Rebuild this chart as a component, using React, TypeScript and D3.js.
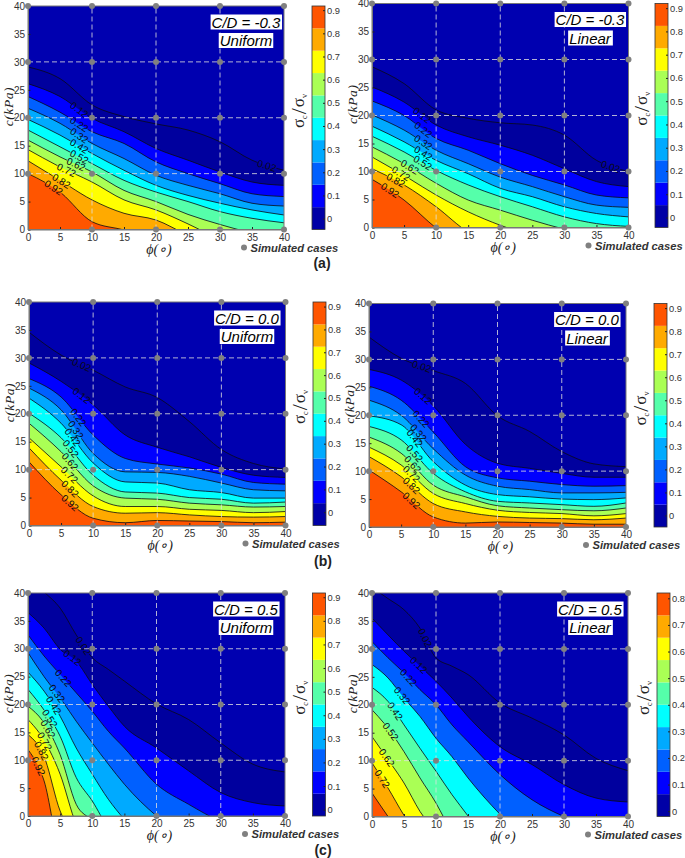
// contour panels redrawn with d3: each contour is c(kPa) read at the phi grid below
import React, { useRef, useEffect } from 'react';
import * as d3 from 'd3';

const PHI = [0, 5, 10, 15, 20, 25, 30, 35, 40];
// the C/D = 0.5 panels fall steeply on the left so they were read more finely there
const PHI_FINE = [0, 2.5, 5, 7.5, 10, 12.5, 15, 20, 25, 30, 35, 40];
const LEVELS = ['0.02', '0.12', '0.22', '0.32', '0.42', '0.52', '0.62', '0.72', '0.82', '0.92'];
const AXIS_TICKS = [0, 5, 10, 15, 20, 25, 30, 35, 40];
const GRID = [10, 20, 30];
const SIM_PHI = [0, 10, 20, 30, 40];
const SIM_C = [0, 10, 20, 30, 40];

// negative numbers = contour has already left through the bottom of the plot
const contoursA1 = [
  [29.1, 27, 22.3, 20.2, 18.9, 17.8, 15.7, 12.4, 10.6],
  [26.1, 23.8, 19.9, 17.5, 14.5, 12.4, 10.3, 8.5, 7.9],
  [23.8, 21, 17.5, 15.4, 12.1, 10, 8.2, 6.4, 5.9],
  [21.7, 19, 15.4, 12.7, 9.7, 7.9, 6.4, 4.7, 4.2],
  [19.7, 16.9, 13.6, 10.6, 7.9, 6.1, 4.7, 3.5, 2.6],
  [17.8, 14.8, 11.8, 8.8, 6.7, 5, 3.2, 2, 1.2],
  [16, 13, 10.3, 7, 5, 2.7, 0.9, -0.6, -1.5],
  [14.3, 11.2, 8.5, 5.3, 3.5, 1, -1.8, -4, -6],
  [12.3, 8.8, 5.3, 2.9, 1.7, -1, -3, -5, -7],
  [10, 6.7, 1.4, -0.1, -2, -4, -6, -8, -10],
];
const contoursA2 = [
  [28.7, 25.7, 21, 19.5, 18.7, 18.3, 16.5, 12, 10],
  [25.1, 22.4, 18.3, 16.2, 14.7, 12.9, 10.5, 8.2, 7.3],
  [22.6, 20, 15.9, 13.8, 11.4, 9.3, 7.6, 5.8, 5.3],
  [20.1, 17.4, 13.8, 11.4, 9, 7.3, 5.5, 4, 3.6],
  [18.1, 15.3, 12, 9.6, 7, 5.5, 3.7, 2.5, 1.9],
  [16.3, 13.5, 10.2, 7.6, 5.5, 3.7, 1.9, 0.7, 0.2],
  [14.4, 11.4, 7.9, 4.9, 3.1, 1.3, -0.3, -1.5, -3],
  [12.6, 9.3, 5.8, 2.8, 0.4, -1.5, -3, -5, -7],
  [10.5, 7.6, 3.7, -0.8, -3, -5, -7, -9, -11],
  [8.6, 4.9, -0.1, -4, -6, -8, -10, -12, -14],
];
const contoursB1 = [
  [34.6, 30.5, 27.8, 24.8, 22.9, 18.6, 13.6, 11.1, 10.1],
  [29.1, 25.8, 21.6, 16.2, 14, 12.3, 10.4, 9, 8.6],
  [26.3, 23, 16.2, 12, 11, 10.3, 9.2, 7.7, 7.4],
  [24.6, 20.7, 12.9, 9.6, 9.5, 8.8, 7.6, 6.4, 6.2],
  [22.8, 18.3, 11.2, 7.8, 7.6, 6.4, 5.9, 4.9, 4.9],
  [20.1, 15.7, 9, 6, 5.8, 5, 4.7, 4, 4.2],
  [18.3, 13.2, 7.1, 4.9, 4.7, 4, 3.7, 3.3, 3.4],
  [15.7, 10.5, 5.3, 3.4, 3.4, 2.9, 2.7, 2.3, 2.5],
  [13.9, 8.1, 3.4, 2.2, 2.3, 1.9, 1.6, 1.5, 1.6],
  [11.4, 5.5, 1.3, 0.5, 0.9, 0.8, 0.7, 0.5, 0.6],
];
const contoursB2 = [
  [34, 30.2, 28, 25.7, 19.9, 17.1, 13.5, 11.3, 10.8],
  [28.2, 26.3, 21.7, 14.8, 11.4, 10.5, 9.6, 8.9, 8.9],
  [25.2, 22.7, 17, 10.8, 8.8, 8.2, 7.6, 7.3, 7.4],
  [22.7, 20, 14, 9.3, 7.3, 6.7, 6.1, 6.1, 6.2],
  [19.9, 18.3, 11.7, 7.5, 5.8, 5.4, 5, 4.9, 5.2],
  [18, 15.6, 9.6, 6.3, 4.6, 4.3, 4, 3.7, 4.3],
  [16.1, 13.2, 7.5, 5.4, 3.8, 3.4, 3.1, 2.9, 3.4],
  [14.3, 11.1, 6, 4.2, 3, 2.6, 2.4, 2, 2.4],
  [12.6, 9, 4.2, 2.7, 1.9, 1.6, 1.5, 1.3, 1.6],
  [10.2, 6.3, 1.8, 0.7, 0.9, 0.8, 0.7, 0.5, 0.5],
];
const contoursC1 = [
  [43, 40.2, 37.3, 32.5, 28.4, 26.3, 24.2, 20.1, 17.3, 13.1, 9.3, 7.9],
  [36.5, 33.7, 29.9, 27.8, 23.6, 19.7, 16.1, 12.2, 8.1, 4.2, 2.4, 1.8],
  [32.5, 28.7, 25.4, 22.1, 18.8, 15.2, 12.2, 5.7, 2.1, -1, -3, -5],
  [29.3, 25, 21.2, 17, 13.1, 9.3, 5.7, 0, -4, -8, -12, -16],
  [25.8, 22.4, 17.9, 12.2, 7.5, 3, -0.6, -6, -10, -14, -18, -22],
  [22.7, 19, 14.3, 6.9, 2.7, -2, -4, -10, -14, -18, -22, -26],
  [19.7, 16.7, 11, 2.1, -1, -6, -9, -14, -18, -22, -26, -30],
  [17.3, 13.6, 7.5, -1.5, -6, -9, -12, -18, -22, -26, -30, -34],
  [14.6, 10.7, 0.9, -4, -8, -12, -15, -20, -24, -28, -32, -36],
  [11.9, 6.3, -6, -8, -12, -15, -18, -22, -26, -30, -34, -38],
];
const contoursC2 = [
  [41, 39, 37, 33.7, 28.4, 26.9, 25.4, 20.3, 17.6, 14.6, 10.4, 8.2],
  [35.5, 32.5, 29.6, 26.9, 24.2, 21.2, 17.9, 12.5, 9.3, 5.7, 3.3, 2.6],
  [31.3, 28.4, 25.7, 22.7, 20, 16.4, 13.4, 7.5, 3, 0, -2, -4],
  [27.2, 24.8, 21.2, 17.9, 14, 10.7, 6.9, 0.4, -5, -9, -13, -17],
  [23.1, 20.6, 16.4, 12.2, 8.1, 3.9, 0.1, -8, -12, -16, -20, -24],
  [19.1, 15.8, 11.6, 6.9, 2.4, -3, -8, -14, -18, -22, -26, -30],
  [14.3, 10.2, 6, 0.9, -3, -8, -12, -18, -22, -26, -30, -34],
  [9.6, 5.1, 0.2, -4, -8, -12, -16, -20, -24, -28, -32, -36],
  [4.2, 0, -4, -8, -12, -16, -20, -24, -28, -32, -36, -40],
];

// phi at which each level carries its inline label
const labelsA1 = [37.3, 8, 8, 8, 8, 8, 7.5, 6, 5.2, 4];
const labelsA2 = [37.2, 7.8, 8, 8, 8, 7.9, 5.9, 4.5, 3.7, 2.8];
const labelsB1 = [8.2, 8.2, 7.7, 7.3, 6.8, 6.5, 6.4, 6.3, 6.4, 6.4];
const labelsB2 = [8.2, 8.4, 8.1, 7.7, 7.1, 7.1, 6.8, 6.6, 6.6, 6.6];
const labelsC1 = [8.6, 6.9, 5.5, 4.5, 4, 3.4, 3.1, 2.6, 2.1, 1.6];
const labelsC2 = [8.3, 7.3, 5.7, 4.7, 3.6, 2.9, 2.3, 1.6, null];

const BAR_COLORS = ['#0000a6', '#0000ff', '#0060ff', '#00aaff', '#00ffff', '#55ffaa', '#aaff55', '#ffff00', '#ffaa00', '#ff5500'];
// first entry is the area above the 0.02 line
const FILLS = ['#0000b0', '#00009e', '#0000ff', '#0060ff', '#00aaff', '#00ffff', '#55ffaa', '#aaff55', '#ffff00', '#ffaa00', '#ff5500'];
const FILLS_C2 = ['#0000b0', '#00009e', '#0000ff', '#0060ff', '#00ffff', '#55ffaa', '#aaff55', '#ffff00', '#ffaa00', '#ff5500'];

const TICKS_09 = [0, 0.1, 0.2, 0.3, 0.4, 0.5, 0.6, 0.7, 0.8, 0.9];
const TICKS_08 = [0, 0.1, 0.2, 0.3, 0.4, 0.5, 0.6, 0.7, 0.8];

const panels = [
  { cd: 'C/D = -0.3', load: 'Uniform', phi: PHI, contours: contoursA1, labels: labelsA1, fills: FILLS, box: [28, 6, 284, 229.5], bar: 312, barDomain: [-0.047, 0.918], barTicks: TICKS_09 },
  { cd: 'C/D = -0.3', load: 'Linear', phi: PHI, contours: contoursA2, labels: labelsA2, fills: FILLS, box: [372, 3.5, 628.5, 227.5], bar: 655, barDomain: [-0.043, 0.92], barTicks: TICKS_09 },
  { cd: 'C/D = 0.0', load: 'Uniform', phi: PHI, contours: contoursB1, labels: labelsB1, fills: FILLS, box: [29, 302, 285.5, 525.5], bar: 313, barDomain: [-0.058, 0.92], barTicks: TICKS_09 },
  { cd: 'C/D = 0.0', load: 'Linear', phi: PHI, contours: contoursB2, labels: labelsB2, fills: FILLS, box: [369, 303.5, 626, 527], bar: 654, barDomain: [-0.05, 0.92], barTicks: TICKS_09 },
  { cd: 'C/D = 0.5', load: 'Uniform', phi: PHI_FINE, contours: contoursC1, labels: labelsC1, fills: FILLS, box: [28, 593, 285, 816], bar: 312.5, barDomain: [-0.027, 0.918], barTicks: TICKS_09 },
  { cd: 'C/D = 0.5', load: 'Linear', phi: PHI_FINE, contours: contoursC2, labels: labelsC2, fills: FILLS_C2, box: [372, 593, 628, 816.5], bar: 657, barDomain: [-0.02, 0.82], barTicks: TICKS_08 },
];

const captions = [
  { text: '(a)', x: 322, y: 268 },
  { text: '(b)', x: 323, y: 566 },
  { text: '(c)', x: 323, y: 855 },
];

const SANS = '"Liberation Sans", Arial, sans-serif';
const SERIF = '"Liberation Serif", serif';

function drawPanel(svg, p, idx) {
  const [l, t, r, b] = p.box;
  const x = d3.scaleLinear().domain([0, 40]).range([l, r]);
  const y = d3.scaleLinear().domain([0, 40]).range([b, t]);
  const id = `plot-clip-${idx}`;
  svg.append('clipPath').attr('id', id).append('rect')
    .attr('x', l).attr('y', t).attr('width', r - l).attr('height', b - t);

  const g = svg.append('g');
  const plot = g.append('g').attr('clip-path', `url(#${id})`);
  plot.append('rect').attr('x', l).attr('y', t).attr('width', r - l).attr('height', b - t).attr('fill', p.fills[0]);

  const curve = d3.curveMonotoneX;
  const area = d3.area().x((d, i) => x(p.phi[i])).y1(d => y(d)).y0(b + 400).curve(curve);
  const line = d3.line().x((d, i) => x(p.phi[i])).y(d => y(d)).curve(curve);

  // bands first, the lowest level at the back
  p.contours.forEach((c, i) => {
    plot.append('path').attr('d', area(c)).attr('fill', p.fills[i + 1]);
  });

  const labelLayer = g.append('g');
  p.contours.forEach((c, i) => {
    const path = plot.append('path').attr('d', line(c))
      .attr('fill', 'none').attr('stroke', '#0a0a14').attr('stroke-width', 0.8);
    const phi = p.labels[i];
    if (phi == null) return;
    const node = path.node();
    const total = node.getTotalLength();
    // walk along the path to the label's phi
    let lo = 0, hi = total;
    for (let k = 0; k < 30; k++) {
      const mid = (lo + hi) / 2;
      if (node.getPointAtLength(mid).x < x(phi)) lo = mid; else hi = mid;
    }
    const pt = node.getPointAtLength(lo);
    const a = node.getPointAtLength(Math.max(0, lo - 5));
    const e = node.getPointAtLength(Math.min(total, lo + 5));
    const angle = Math.atan2(e.y - a.y, e.x - a.x) * 180 / Math.PI;
    path.attr('stroke-dasharray', `${Math.max(0, lo - 10)} 20 ${total}`);
    labelLayer.append('text')
      .attr('transform', `translate(${pt.x},${pt.y}) rotate(${angle})`)
      .attr('text-anchor', 'middle').attr('dy', '0.35em')
      .attr('font-family', SANS).attr('font-size', 10).attr('fill', '#0a0a14')
      .text(LEVELS[i]);
  });

  // simulated-case grid
  const grid = g.append('g').attr('stroke', '#e0e0e0').attr('stroke-opacity', 0.8).attr('stroke-width', 1).attr('stroke-dasharray', '5 3');
  GRID.forEach(v => {
    grid.append('line').attr('x1', x(v)).attr('x2', x(v)).attr('y1', b).attr('y2', t);
    grid.append('line').attr('x1', l).attr('x2', r).attr('y1', y(v)).attr('y2', y(v));
  });

  // axes
  const xAxis = g.append('g').attr('transform', `translate(0,${b})`)
    .call(d3.axisBottom(x).tickValues(AXIS_TICKS).tickSizeInner(-2.5).tickSizeOuter(0).tickPadding(4));
  const yAxis = g.append('g').attr('transform', `translate(${l},0)`)
    .call(d3.axisLeft(y).tickValues(AXIS_TICKS).tickSizeInner(-2.5).tickSizeOuter(0).tickPadding(3));
  [xAxis, yAxis].forEach(ax => {
    ax.attr('font-family', SANS).attr('font-size', 10);
    ax.selectAll('text').attr('fill', '#333');
    ax.selectAll('line').attr('stroke', '#222');
    ax.select('.domain').attr('stroke', '#777');
  });
  g.append('rect').attr('x', l).attr('y', t).attr('width', r - l).attr('height', b - t)
    .attr('fill', 'none').attr('stroke', '#777').attr('stroke-width', 1);

  // dots, no point at the origin
  SIM_PHI.forEach(ph => SIM_C.forEach(cv => {
    if (ph === 0 && cv === 0) return;
    g.append('circle').attr('cx', x(ph)).attr('cy', y(cv)).attr('r', 3).attr('fill', '#808080');
  }));

  // boxed annotations
  [[p.cd, 21], [p.load, 39.5]].forEach(([txt, dy]) => {
    const ann = g.append('text').attr('x', l + 218).attr('y', t + dy + 0.5)
      .attr('text-anchor', 'middle').attr('font-family', SANS).attr('font-style', 'italic')
      .attr('font-size', 15).attr('fill', '#000').text(txt);
    const bb = ann.node().getBBox();
    g.insert('rect', () => ann.node())
      .attr('x', bb.x - 1).attr('y', bb.y + 1).attr('width', bb.width + 2).attr('height', bb.height - 2).attr('fill', '#fff');
  });

  // axis titles
  g.append('text')
    .attr('transform', `translate(${l - 15},${t + (b - t) * 0.45}) rotate(-90)`)
    .attr('text-anchor', 'middle').attr('font-family', SERIF).attr('font-style', 'italic')
    .attr('font-size', 13.5).attr('letter-spacing', 0.6).attr('fill', '#222').text('c(kPa)');
  g.append('text').attr('x', (l + r) / 2 + 3).attr('y', b + 24)
    .attr('text-anchor', 'middle').attr('font-family', SERIF).attr('font-style', 'italic')
    .attr('font-size', 14).attr('fill', '#222').text('ϕ(∘)');

  // legend
  g.append('circle').attr('cx', r - 40).attr('cy', b + 18).attr('r', 3).attr('fill', '#808080');
  g.append('text').attr('x', r - 33.5).attr('y', b + 22)
    .attr('font-family', SANS).attr('font-style', 'italic').attr('font-weight', 'bold')
    .attr('font-size', 11.2).attr('fill', '#333').text('Simulated cases');

  // colour bar
  const barW = 13;
  const bar = d3.scaleLinear().domain(p.barDomain).range([b, t]);
  const cells = d3.scaleBand().domain(d3.range(BAR_COLORS.length)).range([b, t]);
  BAR_COLORS.forEach((col, i) => {
    g.append('rect').attr('x', p.bar).attr('y', cells(i)).attr('width', barW).attr('height', cells.bandwidth()).attr('fill', col);
  });
  const barAxis = g.append('g').attr('transform', `translate(${p.bar + barW},0)`)
    .call(d3.axisRight(bar).tickValues(p.barTicks).tickFormat(d => d === 0 ? '0' : d3.format('.1f')(d))
      .tickSizeInner(-2).tickSizeOuter(0).tickPadding(2));
  barAxis.attr('font-family', SANS).attr('font-size', 9.3);
  barAxis.selectAll('text').attr('fill', '#333');
  barAxis.selectAll('line').attr('stroke', '#222');
  barAxis.select('.domain').attr('stroke', 'none');
  g.append('rect').attr('x', p.bar).attr('y', t).attr('width', barW).attr('height', b - t)
    .attr('fill', 'none').attr('stroke', '#333').attr('stroke-width', 0.8);

  const title = g.append('text')
    .attr('transform', `translate(${p.bar - 8},${t + (b - t) * 0.47}) rotate(-90)`)
    .attr('text-anchor', 'middle').attr('font-family', SERIF).attr('fill', '#222').attr('font-size', 17);
  title.append('tspan').text('σ');
  title.append('tspan').attr('font-size', 8).attr('dy', 3).text('c');
  title.append('tspan').attr('font-size', 22).attr('dy', -1).attr('dx', 1).text('/');
  title.append('tspan').attr('dy', -2).attr('dx', 1).text('σ');
  title.append('tspan').attr('font-size', 8).attr('dy', 3).text('v');
}

const App = () => {
  const ref = useRef(null);

  useEffect(() => {
    const svg = d3.select(ref.current);
    svg.selectAll('*').remove();
    panels.forEach((p, i) => drawPanel(svg, p, i));
    captions.forEach(c => {
      svg.append('text').attr('x', c.x).attr('y', c.y).attr('text-anchor', 'middle')
        .attr('font-family', SANS).attr('font-weight', 'bold').attr('font-size', 14)
        .attr('fill', '#222').text(c.text);
    });
  }, []);

  return (
    <svg ref={ref} width={685} height={858}
      style={{ position: 'absolute', left: 0, top: 0, display: 'block', background: '#fff' }} />
  );
};

export default App;
